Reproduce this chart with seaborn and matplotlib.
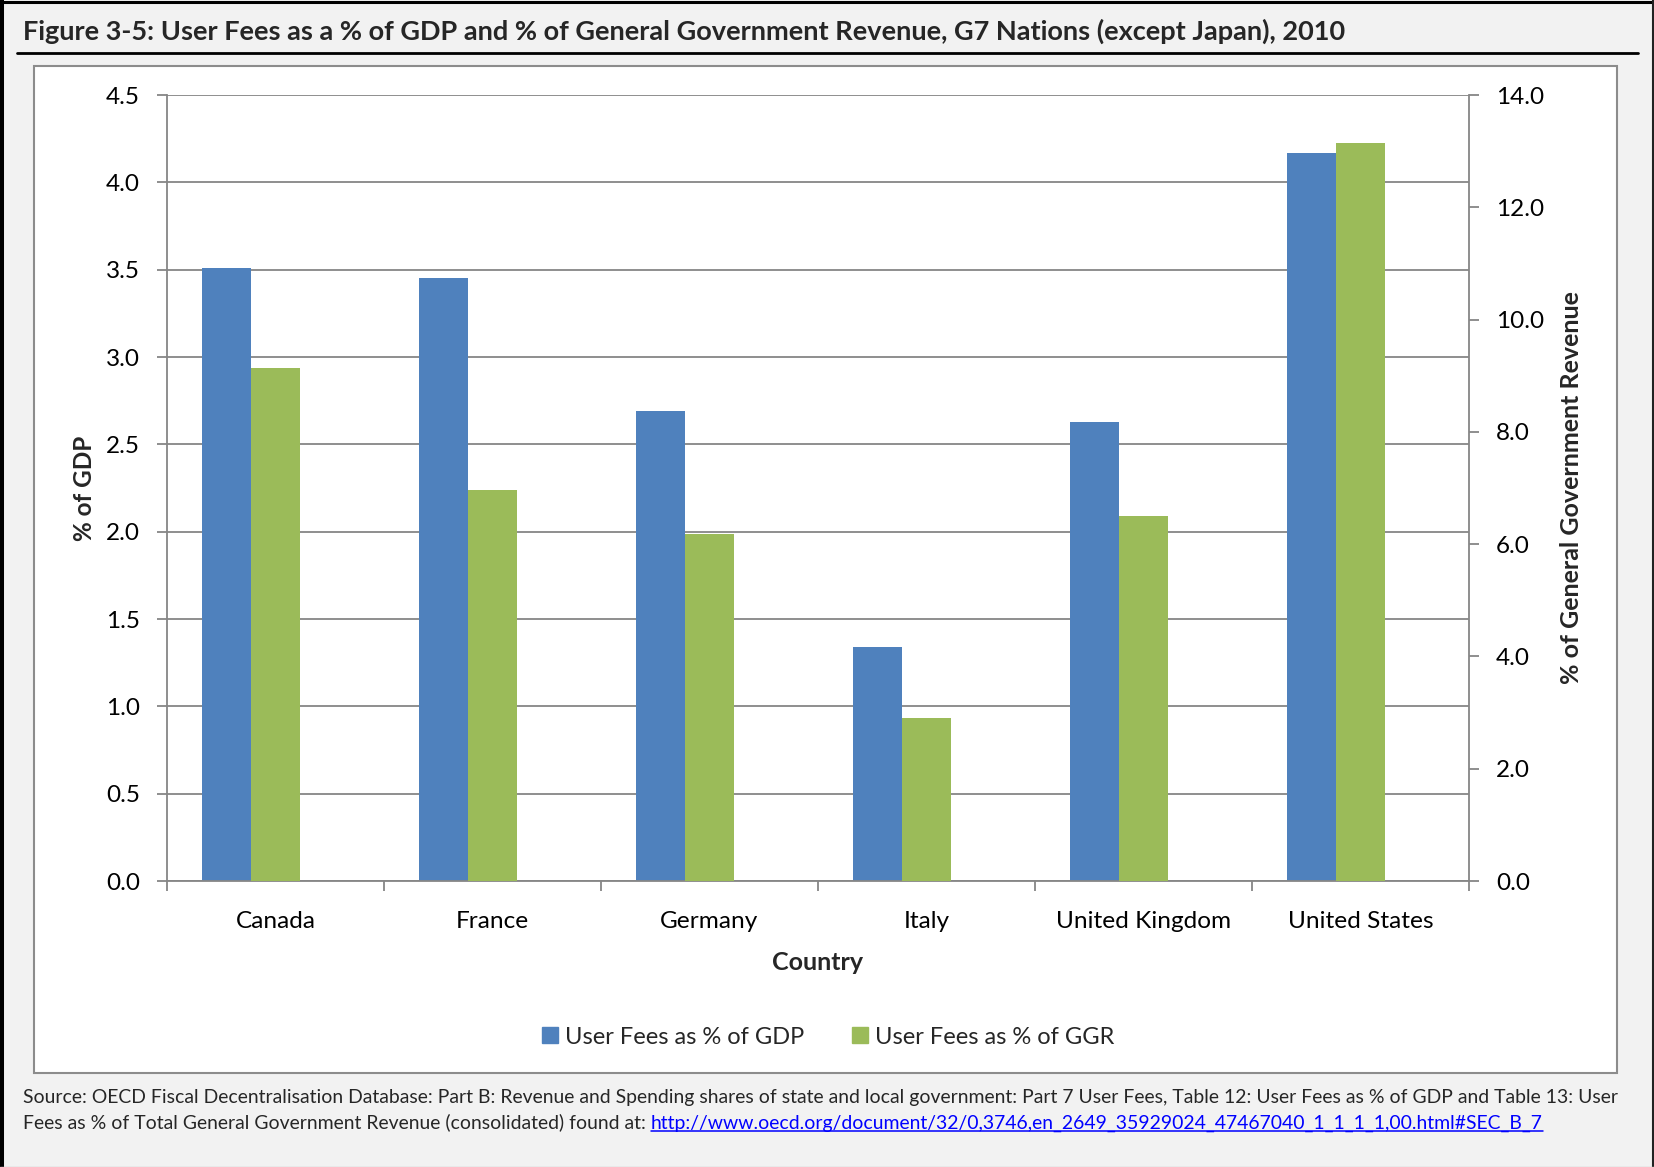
import numpy as np
import pandas as pd
import matplotlib
matplotlib.use('Agg')
import matplotlib.pyplot as plt
import matplotlib.patches as mpatches
from matplotlib.lines import Line2D
import seaborn as sns

countries = ['Canada', 'France', 'Germany', 'Italy', 'United Kingdom', 'United States']
pct_gdp = [3.51, 3.45, 2.69, 1.34, 2.63, 4.17]
pct_ggr = [9.13, 6.97, 6.18, 2.91, 6.50, 13.14]

name_gdp = 'User Fees as % of GDP'
name_ggr = 'User Fees as % of GGR'
gdp_ticks = [0, 0.5, 1.0, 1.5, 2.0, 2.5, 3.0, 3.5, 4.0, 4.5]
ggr_ticks = [0, 2, 4, 6, 8, 10, 12, 14]

title = 'Figure 3-5: User Fees as a % of GDP and % of General Government Revenue, G7 Nations (except Japan), 2010'
source1 = ('Source: OECD Fiscal Decentralisation Database: Part B: Revenue and Spending shares of state and local '
           'government: Part 7 User Fees, Table 12: User Fees as % of GDP and Table 13: User')
source2 = 'Fees as % of Total General Government Revenue (consolidated) found at:'
link = 'http://www.oecd.org/document/32/0,3746,en_2649_35929024_47467040_1_1_1_1,00.html#SEC_B_7'

df_gdp = pd.DataFrame({'Country': countries, 'value': pct_gdp, 'series': name_gdp})
df_ggr = pd.DataFrame({'Country': countries, 'value': pct_ggr, 'series': name_ggr})

# third empty hue level keeps the pair left of centre like the excel chart
hue_order = [name_gdp, name_ggr, ' ']
palette = {name_gdp: '#4F81BD', name_ggr: '#9BBB59', ' ': 'white'}

sns.set_style('white')
plt.rcParams['font.family'] = ['Lato', 'DejaVu Sans']

W, H = 1654, 1167
fig = plt.figure(figsize=(W / 100, H / 100), dpi=100)
fig.patch.set_facecolor('#f2f2f2')

# white chart box
fig.add_artist(mpatches.Rectangle((33.5 / W, 1 - 1072.7 / H), (1617 - 33.5) / W, (1072.7 - 65.7) / H,
                                  facecolor='white', edgecolor='#8c8c8c', lw=1.5, zorder=-1))

ax = fig.add_axes([167 / W, 286 / H, 1302 / W, 786 / H])
ax.set_facecolor('none')
ax2 = ax.twinx()

sns.barplot(data=df_gdp, x='Country', y='value', hue='series', hue_order=hue_order, order=countries,
            palette=palette, width=0.678, gap=0, dodge=True, saturation=1, legend=False,
            linewidth=0, ax=ax)
sns.barplot(data=df_ggr, x='Country', y='value', hue='series', hue_order=hue_order, order=countries,
            palette=palette, width=0.678, gap=0, dodge=True, saturation=1, legend=False,
            linewidth=0, ax=ax2)

grey = '#868686'
ax.set_ylim(0, 4.5)
ax2.set_ylim(0, 14)
ax.set_xlim(-0.5, 5.5)
ax.set_yticks(gdp_ticks)
ax.set_yticklabels([f'{v:.1f}' for v in gdp_ticks])
ax2.set_yticks(ggr_ticks)
ax2.set_yticklabels([f'{v:.1f}' for v in ggr_ticks])
ax.set_axisbelow(True)
ax.yaxis.grid(True, color=grey, lw=1.3)
ax.xaxis.grid(False)
ax2.grid(False)

ax.set_xticks(range(len(countries)))
ax.set_xticklabels(countries)
ax.set_xticks(np.arange(-0.5, len(countries), 1), minor=True)
ax.tick_params(axis='x', which='major', length=0, pad=21.5, labelsize=17.6, colors='black')
ax.tick_params(axis='x', which='minor', length=7, width=1.3, color=grey, direction='out', bottom=True)
ax.tick_params(axis='y', which='major', length=7, width=1.3, color=grey, pad=12.5, labelsize=17.5,
               labelcolor='black', left=True)
ax2.tick_params(axis='y', which='major', length=7, width=1.3, color=grey, pad=12.5, labelsize=17.5,
                labelcolor='black', right=True)

for a in (ax, ax2):
    for s in a.spines.values():
        s.set_visible(False)
for s in ('left', 'bottom'):
    ax.spines[s].set_visible(True)
    ax.spines[s].set_color(grey)
    ax.spines[s].set_linewidth(1.3)
ax2.spines['right'].set_visible(True)
ax2.spines['right'].set_color(grey)
ax2.spines['right'].set_linewidth(1.3)

ax.set_xlabel('Country', fontsize=18, fontweight='bold', va='center')
ax.xaxis.set_label_coords(0.5, -82 / 786)
ax.set_ylabel('% of GDP', fontsize=17.5, fontweight='bold', va='center')
ax.yaxis.set_label_coords((84 - 167) / 1302, 0.5)
ax2.set_ylabel('% of General Government Revenue', fontsize=18, fontweight='bold', va='center')
ax2.yaxis.set_label_coords((1572 - 167) / 1302, 0.5)

handles = [mpatches.Patch(color=palette[name_gdp], label=name_gdp),
           mpatches.Patch(color=palette[name_ggr], label=name_ggr)]
fig.legend(handles=handles, loc='center', bbox_to_anchor=(828 / W, 1 - 1037 / H), ncol=2, frameon=False,
           fontsize=17, handlelength=0.68, handleheight=0.68, handletextpad=0.3, columnspacing=2.0)

# title and rule
fig.text(23 / W, 1 - 40 / H, title, fontsize=19.5, fontweight='bold', va='baseline', ha='left')
fig.add_artist(Line2D([17 / W, 1638 / W], [1 - 53.3 / H] * 2, color='black', lw=2))

# source text
fig.text(23 / W, 1 - 1103 / H, source1, fontsize=13.95, va='baseline', ha='left')
t2 = fig.text(23 / W, 1 - 1128.5 / H, source2, fontsize=13.95, va='baseline', ha='left')
fig.canvas.draw()
r = fig.canvas.get_renderer()
bb = t2.get_window_extent(r)
tl = fig.text((bb.x1 + 5) / W, 1 - 1128.5 / H, link, fontsize=13.95, va='baseline', ha='left', color='#0000ff')
bl = tl.get_window_extent(r)
fig.add_artist(Line2D([bl.x0 / W, bl.x1 / W], [1 - 1131 / H] * 2, color='#0000ff', lw=1.1))

# outer frame
fig.add_artist(Line2D([2 / W, 2 / W], [0, 1], color='black', lw=2.9))
fig.add_artist(Line2D([0, 1], [1 - 1.5 / H] * 2, color='black', lw=2.2))
fig.add_artist(Line2D([1 - 1 / W] * 2, [0, 1], color='#222222', lw=1.5))
fig.add_artist(Line2D([0, 1], [0.5 / H] * 2, color='#c8c8c8', lw=1))

fig.savefig('out.png', dpi=100, facecolor=fig.get_facecolor())
